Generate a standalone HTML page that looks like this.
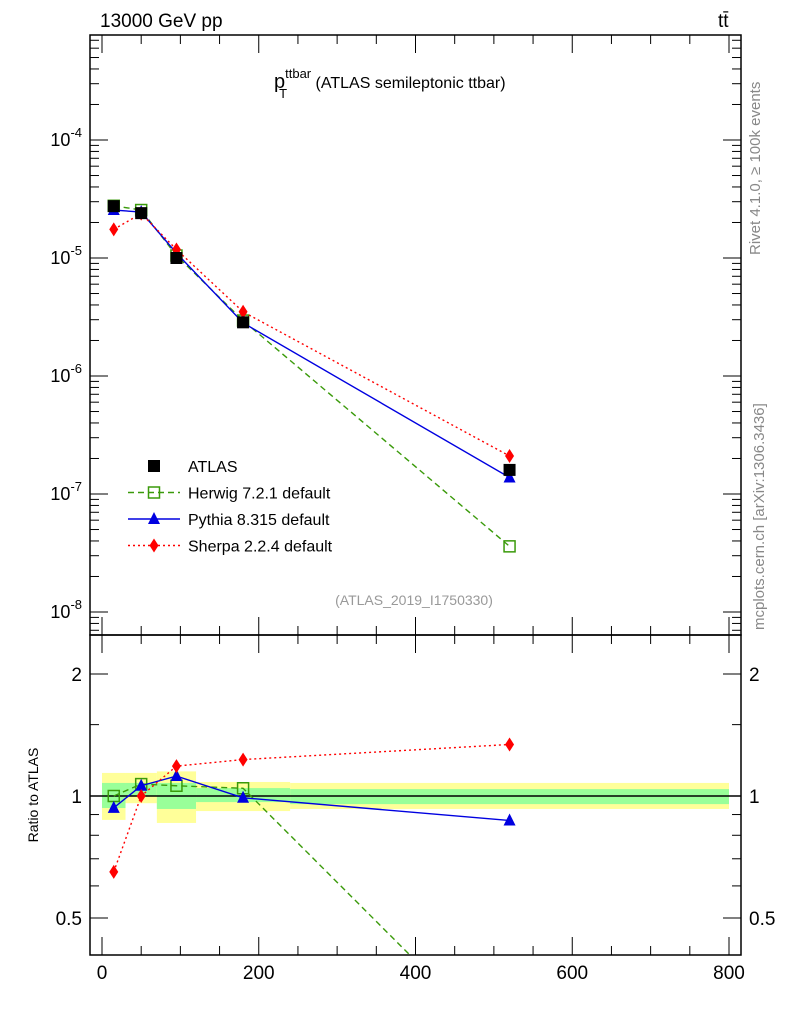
<!DOCTYPE html>
<html><head><meta charset="utf-8"><style>
body{margin:0;background:#fff}
svg{display:block;font-family:"Liberation Sans",sans-serif}
</style></head><body>
<svg id="c" width="786" height="1024" xmlns="http://www.w3.org/2000/svg">
<text x="100" y="27" font-size="19">13000 GeV pp</text>
<text x="718" y="27" font-size="19">tt̄</text>
<text x="274" y="88" font-size="20">p<tspan font-size="13" dy="-10">ttbar</tspan><tspan font-size="13" dx="-32" dy="20">T</tspan><tspan dx="24" dy="-10" font-size="16"> (ATLAS semileptonic ttbar)</tspan></text>
<text x="414" y="605" font-size="14" fill="#999" text-anchor="middle">(ATLAS_2019_I1750330)</text>
<text transform="translate(760,255) rotate(-90)" font-size="15" fill="#888">Rivet 4.1.0, ≥ 100k events</text>
<text transform="translate(764,630) rotate(-90)" font-size="15" fill="#888">mcplots.cern.ch [arXiv:1306.3436]</text>
<text transform="translate(38,795) rotate(-90)" font-size="14" text-anchor="middle">Ratio to ATLAS</text>
<g id="g"></g>
</svg>
<script>
const xs=[15,50,95,180,520];
const edges=[0,30,70,120,240,800];
const atlas=[2.75e-5,2.4e-5,1.0e-5,2.85e-6,1.6e-7];
const herwig=[2.77e-5,2.55e-5,1.05e-5,2.95e-6,3.6e-8];
const pythia=[2.55e-5,2.45e-5,1.1e-5,2.82e-6,1.38e-7];
const sherpa=[1.75e-5,2.38e-5,1.18e-5,3.5e-6,2.1e-7];
const herwigR=[1.0,1.07,1.06,1.045,0.23];
const pythiaR=[0.935,1.06,1.12,0.99,0.87];
const sherpaR=[0.65,1.0,1.185,1.23,1.34];
const yelHi=[1.14,1.14,1.15,1.083,1.077];
const yelLo=[0.873,0.96,0.858,0.918,0.929];
const grnHi=[1.077,1.077,1.077,1.046,1.04];
const grnLo=[0.934,1.0,0.929,0.966,0.955];
const xTicks=[0,200,400,600,800];
const NS="http://www.w3.org/2000/svg";
const g=document.getElementById('g');
const L=90,R=741,T=35,M=635,B=955;
const X=v=>102+v*(729-102)/800;
const Y=v=>140-(Math.log10(v)+4)*118;
const YR=r=>796-Math.log2(r)*122;
function el(t,a,p){const e=document.createElementNS(NS,t);for(const k in a)e.setAttribute(k,a[k]);(p||g).appendChild(e);return e;}
const bands=el('g',{});


for(let i=0;i<5;i++){
 const w=X(edges[i+1])-X(edges[i]);
 const y1=el('rect',{x:X(edges[i]),y:YR(yelHi[i]),width:w,height:YR(yelLo[i])-YR(yelHi[i]),fill:'#ffff99'},bands);
 
 
 const g1=el('rect',{x:X(edges[i]),y:YR(grnHi[i]),width:w,height:YR(grnLo[i])-YR(grnHi[i]),fill:'#99ff99'},bands);
 
 
}
el('line',{x1:L,x2:R,y1:YR(1),y2:YR(1),stroke:'#000','stroke-width':1.5});
const f1=el('rect',{x:L,y:T,width:R-L,height:M-T,fill:'none',stroke:'#000','stroke-width':1.5});


const f2=el('rect',{x:L,y:M,width:R-L,height:B-M,fill:'none',stroke:'#000','stroke-width':1.5});


for(let e=-9;e<=-3;e++){for(let m=1;m<10;m++){const y=Y(m*Math.pow(10,e));if(y<T||y>M)continue;const len=m==1?18:9;
 el('line',{x1:L,x2:L+len,y1:y,y2:y,stroke:'#000'});el('line',{x1:R,x2:R-len,y1:y,y2:y,stroke:'#000'});
 if(m==1){const t=el('text',{x:L-8,y:y+6,'font-size':18,'text-anchor':'end'});t.innerHTML='10<tspan font-size="13" dy="-9">'+e+'</tspan>';}}}
for(const r of [0.5,0.6,0.7,0.8,0.9,1,1.5,2]){const y=YR(r);if(y<M||y>B)continue;const big=[0.5,1,2].includes(r);const len=big?18:9;
 el('line',{x1:L,x2:L+len,y1:y,y2:y,stroke:'#000'});el('line',{x1:R,x2:R-len,y1:y,y2:y,stroke:'#000'});
 if(big){const a=el('text',{x:L-8,y:y+7,'font-size':19,'text-anchor':'end'});a.textContent=r;
 const b=el('text',{x:R+8,y:y+7,'font-size':19});b.textContent=r;}}
for(let v=0;v<=800;v+=50){const x=X(v);const len=v%200==0?18:9;
 for(const [a,d] of [[T,1],[M,-1],[M,1],[B,-1]])el('line',{x1:x,x2:x,y1:a,y2:a+d*len,stroke:'#000'});}
for(const v of xTicks){const t=el('text',{x:X(v),y:979,'font-size':19,'text-anchor':'middle'});t.textContent=v;}
function marker(type,x,y,c,p){
 if(type=='sq')return el('rect',{x:x-6,y:y-6,width:12,height:12,fill:'#000'},p);
 if(type=='osq')return el('rect',{x:x-5.5,y:y-5.5,width:11,height:11,fill:'none',stroke:c,'stroke-width':1.5},p);
 if(type=='tri')return el('polygon',{points:`${x},${y-7} ${x-6},${y+5} ${x+6},${y+5}`,fill:c},p);
 return el('polygon',{points:`${x},${y-7} ${x-4.5},${y} ${x},${y+7} ${x+4.5},${y}`,fill:c},p);
}
function series(vals,yf,c,dash,type,name){
 const pts=vals.map((v,i)=>X(xs[i])+','+yf(v)).join(' ');
 const pl=el('polyline',{points:pts,fill:'none',stroke:c,'stroke-width':1.4,'stroke-dasharray':dash});
 
 
 vals.forEach((v,i)=>{const m=marker(type,X(xs[i]),yf(v),c);
  
  });
}
const cl=el('clipPath',{id:'cr'});el('rect',{x:L,y:M,width:R-L,height:B-M},cl);
const cg=el('g',{'clip-path':'url(#cr)'});
series(herwig,Y,'#3a9a0a','6,4','osq','herwig');
series(pythia,Y,'#0000e0','','tri','pythia');
series(sherpa,Y,'#f00','2,3','dia','sherpa');
atlas.forEach((v,i)=>{const m=marker('sq',X(xs[i]),Y(v));});
[[herwigR,'#3a9a0a','6,4','osq','herwig-ratio'],[pythiaR,'#0000e0','','tri','pythia-ratio'],[sherpaR,'#f00','2,3','dia','sherpa-ratio']].forEach(s=>{
  const pts=s[0].map((v,i)=>X(xs[i])+','+YR(v)).join(' ');
  const p=el('polyline',{points:pts,fill:'none',stroke:s[1],'stroke-width':1.4,'stroke-dasharray':s[2]},cg);
  
  
  s[0].forEach((v,i)=>{if(YR(v)>B)return;const m=marker(s[3],X(xs[i]),YR(v),s[1],cg);});
});
const lg=[['sq','#000','','ATLAS'],['osq','#3a9a0a','6,4','Herwig 7.2.1 default'],['tri','#0000e0','','Pythia 8.315 default'],['dia','#f00','2,3','Sherpa 2.2.4 default']];
lg.forEach((d,i)=>{const y=466+i*26.5;
 if(i>0)el('line',{x1:128,x2:180,y1:y,y2:y,stroke:d[1],'stroke-width':1.4,'stroke-dasharray':d[2]});
 marker(d[0],154,y,d[1]);
 const t=el('text',{x:188,y:y+6,'font-size':16});t.textContent=d[3];
 
 });
</script>
</body></html>
